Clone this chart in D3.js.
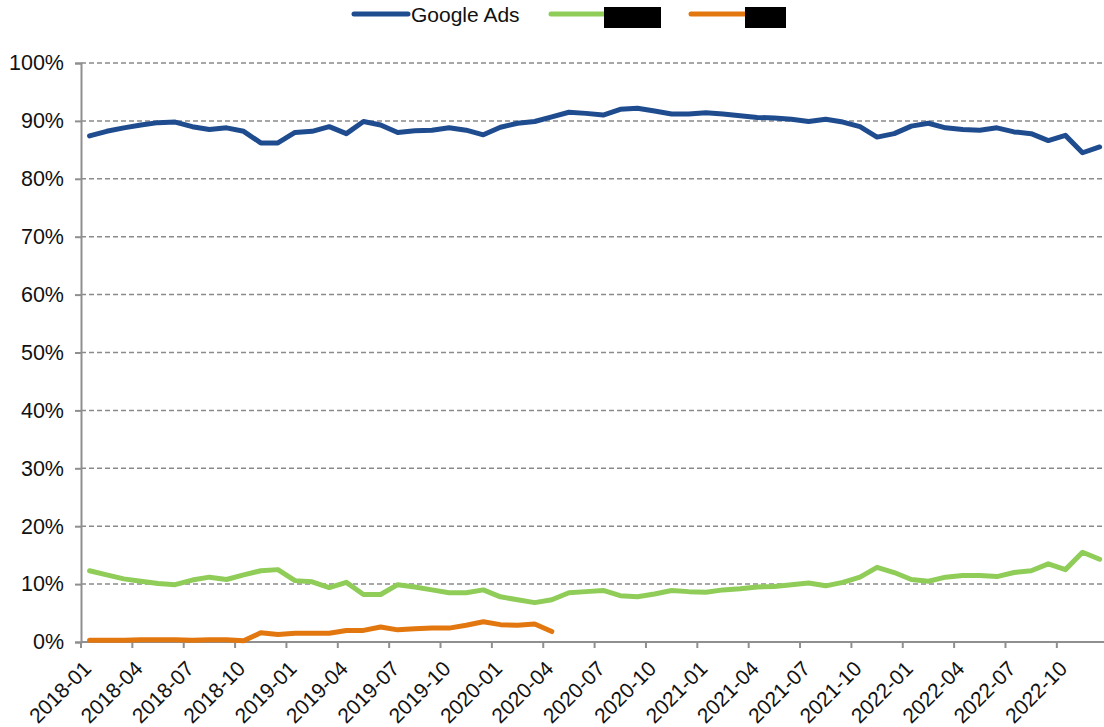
<!DOCTYPE html>
<html>
<head>
<meta charset="utf-8">
<script src="https://cdn.jsdelivr.net/npm/d3@7"></script>
<style>
  html, body { margin: 0; padding: 0; background: #ffffff; }
  svg { display: block; font-family: "Liberation Sans", Arial, sans-serif; }
</style>
</head>
<body>
<svg id="chart" width="1104" height="727"></svg>
<script>
// Monthly categories, 2018-01 .. 2022-12
const months = d3.timeMonth.range(new Date(2018, 0, 1), new Date(2023, 0, 1)).map(d3.timeFormat("%Y-%m"));

// Share of advertisers (%) per month
const googleAds = [87.4, 88.2, 88.8, 89.3, 89.7, 89.8, 89.0, 88.5, 88.8, 88.2, 86.2, 86.2,
                   88.0, 88.2, 89.0, 87.8, 89.9, 89.3, 88.0, 88.3, 88.4, 88.8, 88.4, 87.6,
                   88.9, 89.6, 89.9, 90.7, 91.5, 91.3, 91.0, 92.0, 92.2, 91.7, 91.2, 91.2,
                   91.4, 91.2, 90.9, 90.6, 90.5, 90.3, 89.9, 90.3, 89.8, 89.0, 87.2, 87.8,
                   89.1, 89.6, 88.8, 88.5, 88.4, 88.8, 88.1, 87.8, 86.6, 87.5, 84.5, 85.5];
const seriesB = [12.3, 11.6, 10.9, 10.5, 10.1, 9.9, 10.7, 11.2, 10.8, 11.6, 12.3, 12.5,
                 10.6, 10.4, 9.4, 10.3, 8.2, 8.2, 9.9, 9.5, 9.0, 8.5, 8.5, 9.0,
                 7.8, 7.3, 6.8, 7.3, 8.5, 8.7, 8.9, 8.0, 7.8, 8.3, 8.9, 8.7,
                 8.6, 9.0, 9.2, 9.5, 9.6, 9.9, 10.2, 9.7, 10.3, 11.2, 12.9, 12.0,
                 10.8, 10.5, 11.2, 11.5, 11.5, 11.3, 12.0, 12.3, 13.5, 12.5, 15.5, 14.3];
const seriesC = [0.3, 0.3, 0.3, 0.4, 0.4, 0.4, 0.3, 0.4, 0.4, 0.2, 1.6, 1.3,
                 1.5, 1.5, 1.5, 2.0, 2.0, 2.6, 2.1, 2.3, 2.4, 2.4, 2.9, 3.5,
                 3.0, 2.9, 3.1, 1.8];

const yTicks = [0, 10, 20, 30, 40, 50, 60, 70, 80, 90, 100];
const xTickLabels = months.filter((m, i) => i % 3 === 0);

const series = [
  { name: "Google Ads", values: googleAds, color: "#1f4c8f" },
  { name: null, values: seriesB, color: "#8fcd58" },
  { name: null, values: seriesC, color: "#e3770f" }
];

const svg = d3.select("#chart");
const plotLeft = 81, plotTop = 63, plotBottom = 642, plotRight = 81 + 60 * 17.12;

const x = d3.scaleBand().domain(months).range([plotLeft, plotRight]).paddingInner(0).paddingOuter(0);
const y = d3.scaleLinear().domain([0, 100]).range([plotBottom, plotTop]);
const cx = m => x(m) + x.bandwidth() / 2;

const axisColor = "#8f8f8f";

// Horizontal dashed gridlines
svg.append("g")
  .selectAll("line")
  .data(yTicks.filter(t => t > 0))
  .join("line")
  .attr("x1", plotLeft).attr("x2", 1104)
  .attr("y1", d => y(d)).attr("y2", d => y(d))
  .attr("stroke", "#8a8a8a")
  .attr("stroke-width", 1.5)
  .attr("stroke-dasharray", "5,3");

// Y axis
const yAxis = svg.append("g")
  .attr("transform", `translate(${plotLeft},0)`)
  .call(d3.axisLeft(y).tickValues(yTicks).tickFormat(d => d + "%").tickSize(6).tickPadding(11));
yAxis.select(".domain").attr("stroke", axisColor).attr("stroke-width", 2);
yAxis.selectAll(".tick line").attr("stroke", axisColor).attr("stroke-width", 2);
yAxis.selectAll(".tick text")
  .attr("font-size", 21.5)
  .attr("fill", "#111")
  .attr("font-family", "'Liberation Sans', Arial, sans-serif");

// X axis: tick marks at category boundaries every 3 months
const xAxisG = svg.append("g");
xAxisG.append("line")
  .attr("x1", plotLeft).attr("x2", 1104)
  .attr("y1", plotBottom).attr("y2", plotBottom)
  .attr("stroke", axisColor).attr("stroke-width", 2);
xAxisG.selectAll("line.tick")
  .data(xTickLabels)
  .join("line")
  .attr("class", "tick")
  .attr("x1", d => x(d)).attr("x2", d => x(d))
  .attr("y1", plotBottom).attr("y2", plotBottom + 6)
  .attr("stroke", axisColor).attr("stroke-width", 2);
xAxisG.selectAll("text")
  .data(xTickLabels)
  .join("text")
  .attr("transform", d => `translate(${cx(d) + 3},${plotBottom + 28}) rotate(-45)`)
  .attr("text-anchor", "end")
  .attr("font-size", 21)
  .attr("fill", "#111")
  .text(d => d);

// Lines
const line = d3.line()
  .x((d, i) => cx(months[i]))
  .y(d => y(d));

svg.append("g")
  .selectAll("path")
  .data(series)
  .join("path")
  .attr("d", d => line(d.values))
  .attr("fill", "none")
  .attr("stroke", d => d.color)
  .attr("stroke-width", 5)
  .attr("stroke-linejoin", "round")
  .attr("stroke-linecap", "round");

// Legend
const legendItems = [
  { s: series[0], x1: 354, x2: 408, label: "Google Ads", box: null },
  { s: series[1], x1: 551, x2: 604, label: null, box: [604, 57] },
  { s: series[2], x1: 691, x2: 745, label: null, box: [745, 41] }
];
const legend = svg.append("g");
legendItems.forEach(it => {
  legend.append("line")
    .attr("x1", it.x1).attr("x2", it.x2)
    .attr("y1", 14).attr("y2", 14)
    .attr("stroke", it.s.color)
    .attr("stroke-width", 5)
    .attr("stroke-linecap", "round");
  if (it.label) {
    legend.append("text")
      .attr("x", it.x2 + 3).attr("y", 21.5)
      .attr("font-size", 21)
      .attr("fill", "#111")
      .text(it.label);
  }
  if (it.box) {
    legend.append("rect")
      .attr("x", it.box[0]).attr("y", 7)
      .attr("width", it.box[1]).attr("height", 21)
      .attr("fill", "#000");
  }
});
</script>
</body>
</html>
